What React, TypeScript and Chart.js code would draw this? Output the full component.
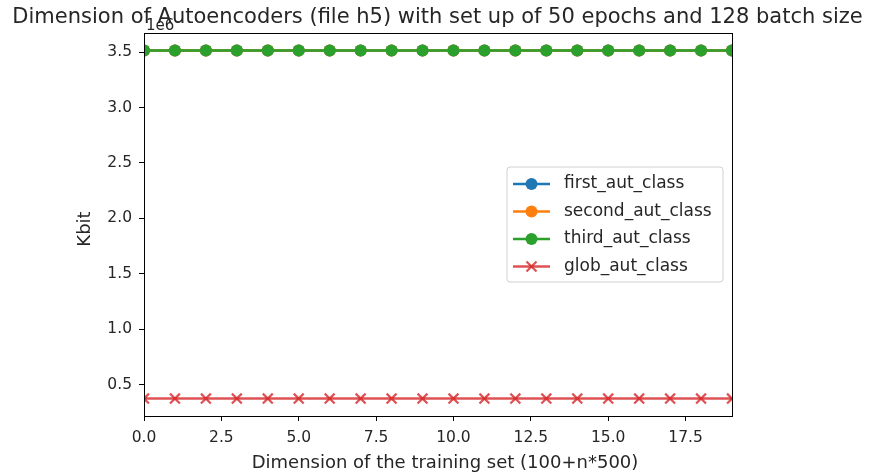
import React, { useEffect, useRef } from "react";
import { Chart, registerables } from "chart.js";

Chart.register(...registerables);

const xValues = [0, 1, 2, 3, 4, 5, 6, 7, 8, 9, 10, 11, 12, 13, 14, 15, 16, 17, 18, 19];
const firstAut = [3515000, 3515000, 3515000, 3515000, 3515000, 3515000, 3515000, 3515000, 3515000, 3515000, 3515000, 3515000, 3515000, 3515000, 3515000, 3515000, 3515000, 3515000, 3515000, 3515000];
const secondAut = [3515000, 3515000, 3515000, 3515000, 3515000, 3515000, 3515000, 3515000, 3515000, 3515000, 3515000, 3515000, 3515000, 3515000, 3515000, 3515000, 3515000, 3515000, 3515000, 3515000];
const thirdAut = [3515000, 3515000, 3515000, 3515000, 3515000, 3515000, 3515000, 3515000, 3515000, 3515000, 3515000, 3515000, 3515000, 3515000, 3515000, 3515000, 3515000, 3515000, 3515000, 3515000];
const globAut = [376000, 376000, 376000, 376000, 376000, 376000, 376000, 376000, 376000, 376000, 376000, 376000, 376000, 376000, 376000, 376000, 376000, 376000, 376000, 376000];
const xTicks = [0, 2.5, 5, 7.5, 10, 12.5, 15, 17.5];
const yTicks = [500000, 1000000, 1500000, 2000000, 2500000, 3000000, 3500000];
const seriesNames = ["first_aut_class", "second_aut_class", "third_aut_class", "glob_aut_class"];
const seriesColors = ["#1f77b4", "#ff7f0e", "#2ca02c", "rgba(214,39,40,0.8)"];

const FONT = "'DejaVu Sans', sans-serif";
const TEXT = "#262626";

export default function App() {
  const ref = useRef<HTMLCanvasElement | null>(null);

  useEffect(() => {
    document.body.style.margin = "0";
    const canvas = ref.current;
    if (!canvas) return;
    const seriesData = [firstAut, secondAut, thirdAut, globAut];
    const datasets = seriesData.map((vals, i) => ({
      label: seriesNames[i],
      data: vals.map((v, j) => ({ x: xValues[j], y: v })),
      borderColor: seriesColors[i],
      backgroundColor: seriesColors[i],
      borderWidth: 2.5,
      pointStyle: i === 3 ? "crossRot" : "circle",
      pointRadius: i === 3 ? 7 : 6,
      pointBorderWidth: i === 3 ? 2.2 : 0,
      pointBorderColor: seriesColors[i],
      pointBackgroundColor: seriesColors[i],
      order: 3 - i,
      tension: 0,
    }));

    const overlay = {
      id: "overlay",
      afterDraw(chart: any) {
        const ctx = chart.ctx;
        const a = chart.chartArea;
        ctx.save();
        // frame
        ctx.strokeStyle = "#000";
        ctx.lineWidth = 1;
        ctx.strokeRect(Math.round(a.left) + 0.5, Math.round(a.top) + 0.5, Math.round(a.right - a.left), Math.round(a.bottom - a.top));
        // offset text
        ctx.fillStyle = TEXT;
        ctx.font = `15px ${FONT}`;
        ctx.textAlign = "left";
        ctx.textBaseline = "alphabetic";
        ctx.fillText("1e6", a.left + 2, 30);
        // title
        ctx.font = `21px ${FONT}`;
        ctx.textAlign = "center";
        ctx.fillText("Dimension of Autoencoders (file h5) with set up of 50 epochs and 128 batch size", 437.5, 23);
        // x label
        ctx.font = `18px ${FONT}`;
        ctx.textBaseline = "middle";
        ctx.fillText("Dimension of the training set (100+n*500)", 445, 463);
        // y label
        ctx.save();
        ctx.translate(85, 229);
        ctx.rotate(-Math.PI / 2);
        ctx.fillText("Kbit", 0, 0);
        ctx.restore();
        // legend
        const lx = 507, ly = 167, lw = 216, lh = 115, r = 3;
        ctx.beginPath();
        ctx.moveTo(lx + r, ly);
        ctx.lineTo(lx + lw - r, ly);
        ctx.quadraticCurveTo(lx + lw, ly, lx + lw, ly + r);
        ctx.lineTo(lx + lw, ly + lh - r);
        ctx.quadraticCurveTo(lx + lw, ly + lh, lx + lw - r, ly + lh);
        ctx.lineTo(lx + r, ly + lh);
        ctx.quadraticCurveTo(lx, ly + lh, lx, ly + lh - r);
        ctx.lineTo(lx, ly + r);
        ctx.quadraticCurveTo(lx, ly, lx + r, ly);
        ctx.closePath();
        ctx.fillStyle = "rgba(255,255,255,0.8)";
        ctx.fill();
        ctx.strokeStyle = "#d0d0d0";
        ctx.lineWidth = 1;
        ctx.stroke();
        const rows = [184, 211.5, 239, 266.5];
        seriesNames.forEach((name, i) => {
          const y = rows[i];
          ctx.strokeStyle = seriesColors[i];
          ctx.lineWidth = 2.5;
          ctx.beginPath();
          ctx.moveTo(513, y);
          ctx.lineTo(550, y);
          ctx.stroke();
          if (i === 3) {
            const s = 5;
            ctx.lineWidth = 2.2;
            ctx.beginPath();
            ctx.moveTo(531.5 - s, y - s);
            ctx.lineTo(531.5 + s, y + s);
            ctx.moveTo(531.5 - s, y + s);
            ctx.lineTo(531.5 + s, y - s);
            ctx.stroke();
          } else {
            ctx.fillStyle = seriesColors[i];
            ctx.beginPath();
            ctx.arc(531.5, y, 6, 0, Math.PI * 2);
            ctx.fill();
          }
          ctx.fillStyle = TEXT;
          ctx.font = `17px ${FONT}`;
          ctx.textAlign = "left";
          ctx.textBaseline = "middle";
          ctx.fillText(name, 564, y);
        });
        ctx.restore();
      },
    };

    const chart = new Chart(canvas, {
      type: "line",
      data: { datasets: datasets as any },
      options: {
        animation: false,
        responsive: false,
        maintainAspectRatio: false,
        events: [],
        layout: { padding: { left: 0, right: 137, top: 33, bottom: 0 } },
        plugins: { legend: { display: false }, title: { display: false }, tooltip: { enabled: false } },
        scales: {
          x: {
            type: "linear",
            min: 0,
            max: 19,
            afterBuildTicks: (s: any) => { s.ticks = xTicks.map((v) => ({ value: v })); },
            afterFit: (s: any) => { s.height = 58; },
            grid: { display: true, drawOnChartArea: false, drawTicks: true, tickLength: 5, color: "#000" },
            border: { display: true, color: "#000" },
            ticks: { color: TEXT, font: { family: FONT, size: 15.5 }, padding: 8, maxRotation: 0, autoSkip: false, callback: (v: any) => Number(v).toFixed(1) },
          },
          y: {
            type: "linear",
            min: 219000,
            max: 3672000,
            afterBuildTicks: (s: any) => { s.ticks = yTicks.map((v) => ({ value: v })); },
            afterFit: (s: any) => { s.width = 144; },
            grid: { display: true, drawOnChartArea: false, drawTicks: true, tickLength: 5, color: "#000" },
            border: { display: true, color: "#000" },
            ticks: { color: TEXT, font: { family: FONT, size: 15.5 }, padding: 7, autoSkip: false, callback: (v: any) => (Number(v) / 1e6).toFixed(1) },
          },
        },
      },
      plugins: [overlay],
    });
    return () => chart.destroy();
  }, []);

  return (
    <div style={{ position: "absolute", left: 0, top: 0, width: 869, height: 474, background: "#fff" }}>
      <canvas ref={ref} width={869} height={474} style={{ display: "block" }} />
    </div>
  );
}
